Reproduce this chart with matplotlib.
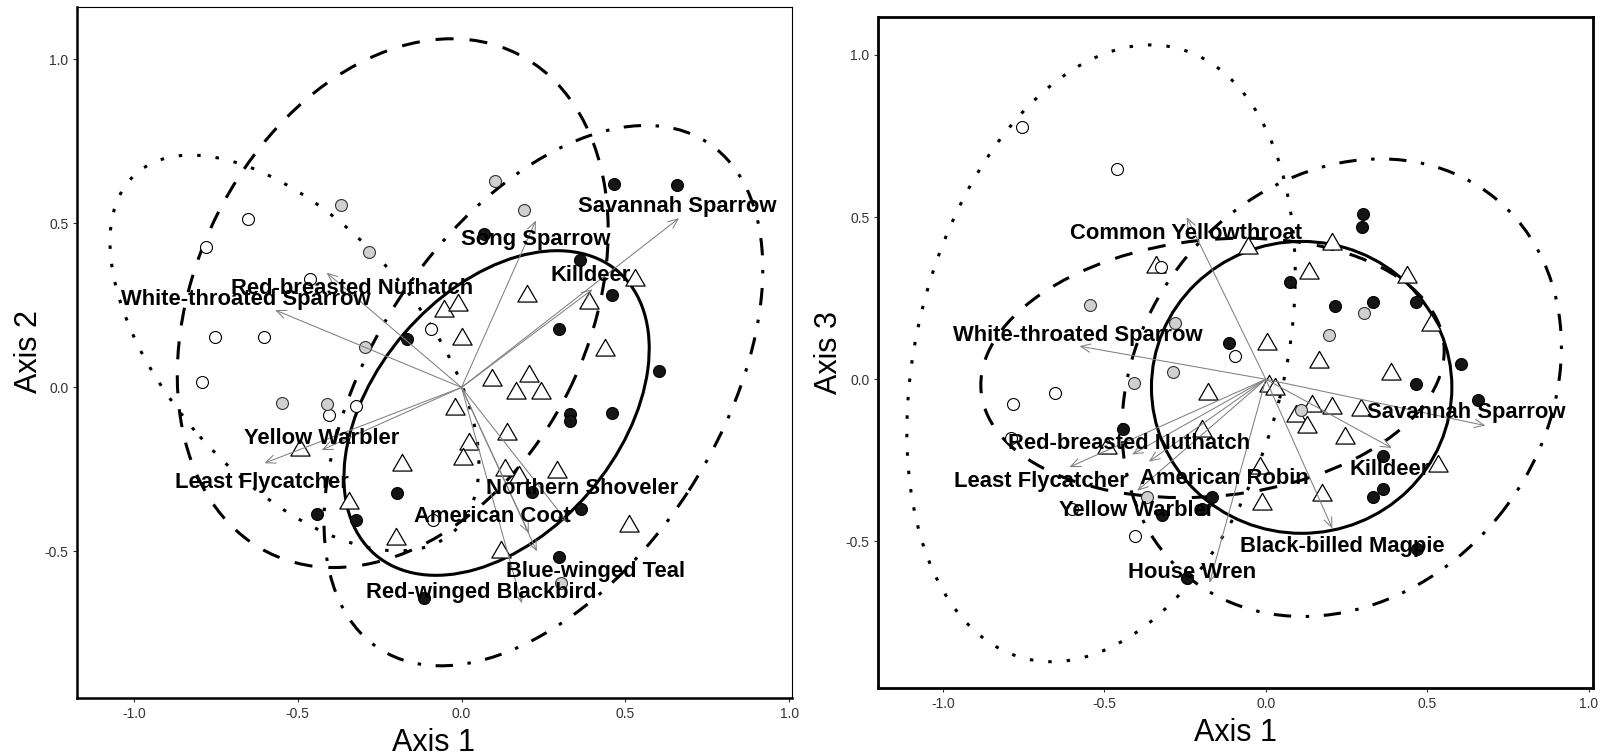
import matplotlib
matplotlib.use("Agg")
import matplotlib.pyplot as plt
from matplotlib.patches import Ellipse, FancyArrowPatch
from matplotlib.path import Path

plt.rcParams['font.family'] = ['Liberation Sans', 'DejaVu Sans']
plt.rcParams['axes.unicode_minus'] = False
plt.rcParams['lines.scale_dashes'] = False

# ---------------- panel 1 : Axis 1 / Axis 2 ----------------
p1_open_x = [-0.653, -0.781, -0.464, -0.752, -0.604, -0.791, -0.094, -0.322, -0.404, -0.086]
p1_open_y = [0.513, 0.428, 0.330, 0.153, 0.153, 0.017, 0.177, -0.056, -0.084, -0.405]
p1_gray_x = [0.103, 0.191, -0.368, -0.282, -0.294, -0.547, -0.412, 0.303]
p1_gray_y = [0.628, 0.542, 0.556, 0.414, 0.122, -0.046, -0.052, -0.596]
p1_black_x = [0.467, 0.659, 0.070, 0.361, 0.460, 0.298, -0.165, 0.603, 0.331, 0.331,
              0.460, -0.197, 0.216, -0.442, -0.322, 0.366, 0.298, -0.116]
p1_black_y = [0.619, 0.616, 0.468, 0.390, 0.283, 0.177, 0.148, 0.050, -0.081, -0.103,
              -0.077, -0.323, -0.318, -0.385, -0.403, -0.372, -0.516, -0.641]
p1_tri_x = [0.530, 0.201, 0.388, -0.055, -0.011, 0.001, 0.437, 0.093, 0.206, 0.165, 0.244, -0.019,
            0.138, 0.024, 0.006, -0.181, -0.492, 0.133, 0.174, 0.292, -0.344, -0.200, 0.121, 0.510]
p1_tri_y = [0.329, 0.278, 0.258, 0.233, 0.250, 0.147, 0.115, 0.022, 0.036, -0.017, -0.017, -0.067,
            -0.143, -0.173, -0.218, -0.238, -0.191, -0.253, -0.273, -0.258, -0.351, -0.462, -0.502, -0.424]

p1_species = ["Savannah Sparrow", "Song Sparrow", "Killdeer", "Red-breasted Nuthatch",
              "White-throated Sparrow", "Yellow Warbler", "Least Flycatcher", "Northern Shoveler",
              "American Coot", "Blue-winged Teal", "Red-winged Blackbird"]
p1_tip_x = [0.664, 0.227, 0.400, -0.412, -0.569, -0.427, -0.602, 0.326, 0.206, 0.230, 0.184]
p1_tip_y = [0.516, 0.509, 0.299, 0.350, 0.236, -0.191, -0.231, -0.414, -0.445, -0.500, -0.658]
p1_lab_x = [0.659, 0.227, 0.393, -0.333, -0.659, -0.427, -0.610, 0.367, 0.095, 0.409, 0.060]
p1_lab_y = [0.536, 0.434, 0.323, 0.285, 0.252, -0.172, -0.307, -0.325, -0.409, -0.579, -0.643]

# ellipses: centre x, centre y, width, height, angle
p1_ell_cx = [0.107, -0.210, -0.510, 0.250]
p1_ell_cy = [-0.078, 0.257, 0.105, -0.025]
p1_ell_w = [1.138, 1.700, 1.460, 1.840]
p1_ell_h = [0.744, 1.200, 0.770, 1.060]
p1_ell_ang = [49.3, 63.4, -48.5, 57.0]

# ---------------- panel 2 : Axis 1 / Axis 3 ----------------
p2_open_x = [-0.754, -0.460, -0.324, -0.094, -0.653, -0.782, -0.790, -0.405, -0.600]
p2_open_y = [0.777, 0.649, 0.345, 0.071, -0.043, -0.077, -0.181, -0.483, -0.400]
p2_gray_x = [-0.545, -0.280, -0.288, -0.408, 0.303, 0.195, -0.369, 0.108]
p2_gray_y = [0.228, 0.172, 0.022, -0.011, 0.205, 0.135, -0.363, -0.094]
p2_black_x = [0.301, 0.297, 0.074, 0.215, 0.332, 0.464, 0.605, 0.466, 0.658, -0.114,
              -0.442, 0.364, 0.364, 0.333, -0.166, -0.198, -0.321, 0.467, -0.245]
p2_black_y = [0.511, 0.470, 0.300, 0.226, 0.238, 0.238, 0.048, -0.015, -0.063, 0.112,
              -0.153, -0.238, -0.338, -0.363, -0.362, -0.399, -0.420, -0.523, -0.614]
p2_tri_x = [0.205, -0.055, -0.340, 0.135, 0.437, 0.511, 0.004, 0.166, 0.388, -0.179, 0.010, 0.028,
            0.142, 0.204, 0.294, 0.095, 0.127, -0.197, 0.245, -0.492, 0.532, -0.018, 0.175, -0.012]
p2_tri_y = [0.416, 0.406, 0.346, 0.327, 0.316, 0.168, 0.108, 0.052, 0.016, -0.044, -0.022, -0.029,
            -0.082, -0.089, -0.094, -0.114, -0.147, -0.160, -0.181, -0.213, -0.266, -0.273, -0.358, -0.385]

p2_species = ["Common Yellowthroat", "White-throated Sparrow", "Savannah Sparrow", "Killdeer",
              "Black-billed Magpie", "House Wren", "Red-breasted Nuthatch", "Least Flycatcher",
              "American Robin", "Yellow Warbler"]
p2_tip_x = [-0.245, -0.577, 0.680, 0.390, 0.206, -0.174, -0.414, -0.608, -0.362, -0.398]
p2_tip_y = [0.500, 0.102, -0.143, -0.212, -0.460, -0.627, -0.232, -0.271, -0.254, -0.344]
p2_lab_x = [-0.248, -0.581, 0.620, 0.383, 0.238, -0.227, -0.424, -0.696, -0.127, -0.400]
p2_lab_y = [0.432, 0.119, -0.120, -0.295, -0.532, -0.614, -0.216, -0.333, -0.323, -0.422]

p2_ell_cx = [0.111, -0.165, -0.510, 0.235]
p2_ell_cy = [-0.025, 0.035, 0.080, -0.026]
p2_ell_w = [0.930, 1.440, 1.940, 1.506]
p2_ell_h = [0.900, 0.790, 1.140, 1.254]
p2_ell_ang = [0.0, 6.0, 75.9, 50.8]

ticks = [-1.0, -0.5, 0.0, 0.5, 1.0]
tick_labels = ["-1.0", "-0.5", "0.0", "0.5", "1.0"]

# line styles of the four group ellipses (solid, dashed, dotted, dot-dash)
ell_styles = ['-', (0, (13, 11.5)), (0, (2.5, 10.8)), (0, (12.5, 10.5, 2.5, 10.5))]

tri_marker = Path([(-0.866, -0.5), (0.866, -0.5), (0.0, 1.0), (-0.866, -0.5)],
                  [Path.MOVETO, Path.LINETO, Path.LINETO, Path.CLOSEPOLY])

W, H = 1602, 755
fig = plt.figure(figsize=(W / 100, H / 100), dpi=100)


def px_axes(l, t, r, b):
    return fig.add_axes([l / W, 1 - b / H, (r - l) / W, (b - t) / H])


def draw_panel(ax, opn, gry, blk, tri, species, tips, labs, ell, xlim, ylim):
    for cx, cy, w, h, a, ls in zip(*ell, ell_styles):
        ax.add_patch(Ellipse((cx, cy), w, h, angle=a, fill=False, ec='black',
                             lw=2.2, ls=ls, zorder=1))
    ax.plot(tri[0], tri[1], ls='none', marker=tri_marker, ms=16, mfc='white',
            mec='black', mew=0.9, zorder=3)
    ax.plot(opn[0], opn[1], ls='none', marker='o', ms=8.6, mfc='white', mec='black', mew=0.8, zorder=3)
    ax.plot(gry[0], gry[1], ls='none', marker='o', ms=8.6, mfc='#d0d0d0', mec='#333333', mew=0.8, zorder=3)
    ax.plot(blk[0], blk[1], ls='none', marker='o', ms=8.6, mfc='#151515', mec='black', mew=0.8, zorder=3)
    for tx, ty in zip(*tips):
        ax.add_patch(FancyArrowPatch((0, 0), (tx, ty), arrowstyle='->,head_length=0.7,head_width=0.3',
                                     mutation_scale=10, lw=0.75, color='#808080',
                                     shrinkA=0, shrinkB=0, zorder=4))
    for name, lx, ly in zip(species, *labs):
        ax.text(lx, ly, name, ha='center', va='baseline', fontsize=15.8,
                fontweight='bold', color='black', zorder=5)
    ax.set_xlim(*xlim)
    ax.set_ylim(*ylim)
    ax.set_xticks(ticks)
    ax.set_xticklabels(tick_labels)
    ax.set_yticks(ticks[1:] if ylim[0] > -1 else ticks)
    ax.set_yticklabels(tick_labels[1:] if ylim[0] > -1 else tick_labels)
    ax.tick_params(direction='out', length=2.9, width=0.8, color='#333333',
                   labelsize=10, labelcolor='#333333', pad=3.5)


ax1 = px_axes(77.3, 7.3, 791.7, 697.7)
draw_panel(ax1, (p1_open_x, p1_open_y), (p1_gray_x, p1_gray_y), (p1_black_x, p1_black_y),
           (p1_tri_x, p1_tri_y), p1_species, (p1_tip_x, p1_tip_y), (p1_lab_x, p1_lab_y),
           (p1_ell_cx, p1_ell_cy, p1_ell_w, p1_ell_h, p1_ell_ang),
           (-1.173, 1.008), (-0.946, 1.159))
for s in ['left', 'bottom']:
    ax1.spines[s].set_linewidth(1.8)
for s in ['top', 'right']:
    ax1.spines[s].set_linewidth(0.8)

ax2 = px_axes(878.5, 17.3, 1592.7, 687.7)
draw_panel(ax2, (p2_open_x, p2_open_y), (p2_gray_x, p2_gray_y), (p2_black_x, p2_black_y),
           (p2_tri_x, p2_tri_y), p2_species, (p2_tip_x, p2_tip_y), (p2_lab_x, p2_lab_y),
           (p2_ell_cx, p2_ell_cy, p2_ell_w, p2_ell_h, p2_ell_ang),
           (-1.199, 1.012), (-0.951, 1.116))
for s in ax2.spines.values():
    s.set_linewidth(2.0)

# axis titles
fig.text(434 / W, 1 - 751 / H, "Axis 1", ha='center', va='baseline', fontsize=22)
fig.text(1236 / W, 1 - 741 / H, "Axis 1", ha='center', va='baseline', fontsize=22)
fig.text(29 / W, 1 - 352 / H, "Axis 2", ha='center', va='center', rotation=90, fontsize=22)
fig.text(829 / W, 1 - 352 / H, "Axis 3", ha='center', va='center', rotation=90, fontsize=22)

fig.savefig("out.png", dpi=100)
